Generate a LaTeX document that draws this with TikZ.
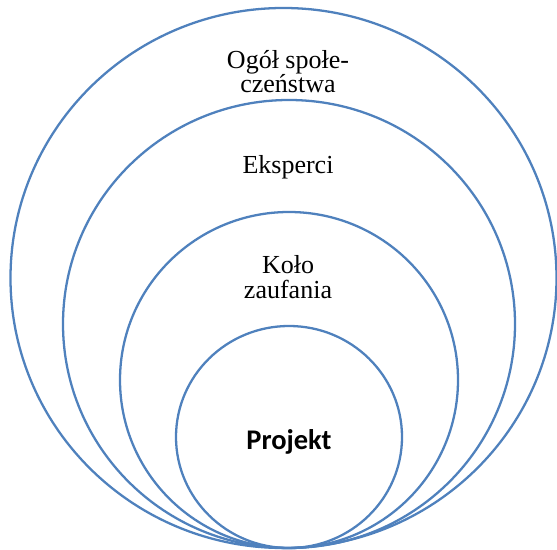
\documentclass[tikz,border=0pt]{standalone}
\usepackage{fontspec}
\setmainfont{Liberation Serif}
\newfontfamily\calibrifont{Carlito}
\usetikzlibrary{positioning}

\definecolor{ringblue}{RGB}{79,129,189}

\tikzset{
  ring/.style={draw=ringblue,line width=1.3pt},
  ringlabel/.style={font=\fontsize{14.8}{14.2}\selectfont,align=center,inner sep=0pt,anchor=base},
  corelabel/.style={font=\calibrifont\bfseries\fontsize{16.2}{18}\selectfont,inner sep=0pt,anchor=base}
}

\begin{document}
\begin{tikzpicture}[x=0.02cm,y=-0.02cm]

% === Page frame (pixel grid of the reference) ===
\useasboundingbox (0,0) rectangle (557,550);

% === Ring 4: whole society ===
\draw[ring] (283.5,278) ellipse [x radius=273,y radius=270];
\node[ringlabel] (society) at (288,93) {Ogół społe-\\czeństwa};

% === Ring 3: experts ===
\draw[ring] (289,324) ellipse [x radius=226,y radius=224];
\node[ringlabel] (experts) at (288,174) {Eksperci};

% === Ring 2: circle of trust ===
\draw[ring] (289,380) ellipse [x radius=169,y radius=168];
\node[ringlabel] (trust) at (288,298) {Koło\\zaufania};

% === Ring 1: the project itself ===
\draw[ring] (289,437) ellipse [x radius=113,y radius=111];
\node[corelabel] (project) at (289,449) {Projekt};

\end{tikzpicture}
\end{document}
